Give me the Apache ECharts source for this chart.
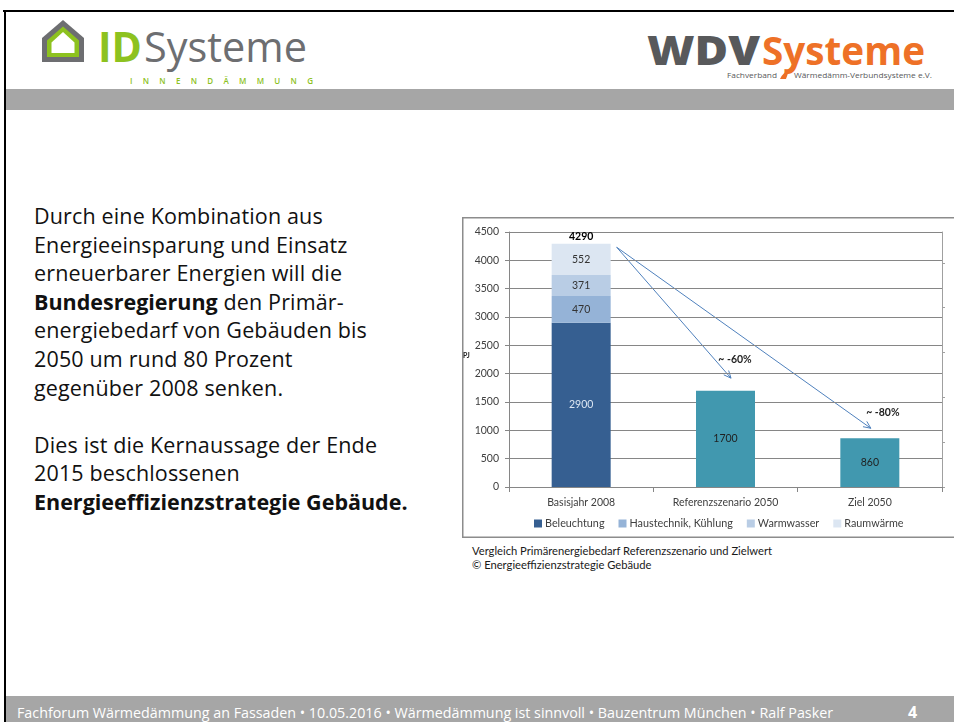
<!DOCTYPE html>
<html>
<head>
<meta charset="utf-8">
<title>Primärenergiebedarf Gebäude</title>
<script src="https://cdn.jsdelivr.net/npm/echarts@6/dist/echarts.min.js"></script>
<style>
  html, body { margin: 0; padding: 0; width: 954px; height: 722px; overflow: hidden; background: #fff; }
  #slide { position: absolute; left: 0; top: 0; }
  #text {
    position: absolute; left: 34px; top: 202px; width: 430px; white-space: nowrap;
    font-family: "Open Sans", "Noto Sans", sans-serif; font-size: 21.5px; letter-spacing: 0.15px;
    line-height: 28.6px; color: #111;
  }
  #text b { font-weight: 700; letter-spacing: 0; }
  #chart { position: absolute; left: 462px; top: 217px; width: 492px; height: 322px; }
  #caption {
    position: absolute; left: 472px; top: 544px; white-space: nowrap;
    font-family: Lato, "Noto Sans", sans-serif; font-size: 11.2px; line-height: 14px; color: #1a1a1a;
  }
</style>
</head>
<body>
<svg id="slide" width="954" height="722" xmlns="http://www.w3.org/2000/svg">
  <!-- Rahmen und Balken -->
  <rect x="3" y="10" width="951" height="2" fill="#000"/>
  <rect x="4" y="10" width="2" height="712" fill="#000"/>
  <rect x="6" y="89" width="948" height="21" fill="#a6a6a6"/>
  <rect x="6" y="696" width="948" height="26" fill="#a6a6a6"/>

  <!-- Logo IDSysteme -->
  <polygon points="42,62 42,38 63,20 84,38 84,62" fill="#6d6e71"/>
  <polygon points="47,57 47,40.5 63,26.5 79,40.5 79,57" fill="#8dc21f"/>
  <polygon points="51.5,53 51.5,42.5 63,32 74.5,42.5 74.5,53" fill="#fff"/>
  <text x="98" y="62" font-family="Open Sans" font-weight="700" font-size="41" fill="#8dc21f"
        textLength="44" lengthAdjust="spacingAndGlyphs">ID</text>
  <text x="144" y="62" font-family="Open Sans" font-size="42" fill="#6d6e71"
        textLength="163" lengthAdjust="spacingAndGlyphs">Systeme</text>
  <text x="130" y="83.5" font-family="Open Sans" font-weight="600" font-size="8" fill="#8dc21f"
        textLength="183" lengthAdjust="spacing">INNENDÄMMUNG</text>

  <!-- Logo WDVSysteme -->
  <text x="647" y="65" font-family="Open Sans" font-weight="800" font-size="40" fill="#58595b"
        textLength="113" lengthAdjust="spacingAndGlyphs">WDV</text>
  <text x="762" y="65" font-family="Open Sans" font-weight="700" font-size="40" fill="#ee7127"
        textLength="163" lengthAdjust="spacingAndGlyphs">Systeme</text>
  <text x="727" y="78" font-family="Open Sans" font-size="7.5" fill="#58595b"
        textLength="50" lengthAdjust="spacingAndGlyphs">Fachverband</text>
  <path d="M780,79 Q783,72 791,69 Q787,74 786,79 Z" fill="#ee7127"/>
  <text x="794" y="78" font-family="Open Sans" font-size="7.5" fill="#58595b"
        textLength="138" lengthAdjust="spacingAndGlyphs">Wärmedämm-Verbundsysteme e.V.</text>

  <!-- Fußzeile -->
  <text x="17" y="718" font-family="Open Sans" font-size="14" fill="#fff"
        textLength="816" lengthAdjust="spacingAndGlyphs">Fachforum Wärmedämmung an Fassaden • 10.05.2016 • Wärmedämmung ist sinnvoll • Bauzentrum München • Ralf Pasker</text>
  <text x="908" y="718" font-family="Open Sans" font-weight="700" font-size="16" fill="#fff">4</text>
</svg>

<div id="text">
  Durch eine Kombination aus<br>
  Energieeinsparung und Einsatz<br>
  erneuerbarer Energien will die<br>
  <b>Bundesregierung</b> den Primär-<br>
  energiebedarf von Gebäuden bis<br>
  2050 um rund 80 Prozent<br>
  gegenüber 2008 senken.<br>
  <br>
  Dies ist die Kernaussage der Ende<br>
  2015 beschlossenen<br>
  <b>Energieeffizienzstrategie Gebäude.</b>
</div>

<div id="chart"></div>

<div id="caption">
  Vergleich Primärenergiebedarf Referenzszenario und Zielwert<br>
  © Energieeffizienzstrategie Gebäude
</div>

<script>
// Daten
const categories = ['Basisjahr 2008', 'Referenzszenario 2050', 'Ziel 2050']
const beleuchtung = [2900, '-', '-']
const haustechnik = [470, '-', '-']
const warmwasser = [371, '-', '-']
const raumwaerme = [552, '-', '-']
const szenarien = ['-', 1700, 860]
const summen = [4290, '-', '-']
const reduktion = [
  { label: '~ -60%', target: 1 },
  { label: '~ -80%', target: 2 }
]
const rightTicks = [0, 1, 2, 3, 4, 5]

const chart = echarts.init(document.getElementById('chart'))

const font = 'Lato, "Noto Sans", sans-serif'
const axisGray = '#868686'

const stackLabel = (color, weight) => ({
  show: true,
  position: 'inside',
  color: color,
  fontFamily: font,
  fontSize: 10.5,
  fontWeight: weight || 'normal'
})

const option = {
  animation: false,
  textStyle: { fontFamily: font },
  legend: {
    data: ['Beleuchtung', 'Haustechnik, Kühlung', 'Warmwasser', 'Raumwärme'],
    left: 67,
    top: 296,
    icon: 'rect',
    itemWidth: 8,
    itemHeight: 8,
    itemGap: 14,
    textStyle: { color: '#404040', fontSize: 10.8, fontFamily: font, padding: [0, 0, 0, -2] }
  },
  grid: { left: 47, top: 15, width: 433, height: 255, containLabel: false },
  xAxis: {
    type: 'category',
    data: categories,
    axisLine: { lineStyle: { color: axisGray } },
    axisTick: { show: true, length: 5, lineStyle: { color: axisGray } },
    axisLabel: { color: '#404040', fontSize: 10.5, margin: 10 }
  },
  yAxis: [
    {
      type: 'value',
      min: 0,
      max: 4500,
      interval: 500,
      axisLine: { show: true, lineStyle: { color: axisGray } },
      axisTick: { show: true, length: 4, lineStyle: { color: axisGray } },
      axisLabel: { color: '#404040', fontSize: 10.5, margin: 10, formatter: v => String(v) },
      splitLine: { lineStyle: { color: axisGray, width: 1 } }
    },
    {
      type: 'value',
      position: 'right',
      min: 0,
      max: 5.69,
      axisLine: { show: true, lineStyle: { color: '#a0a0a0' } },
      axisTick: { show: true, length: 3, customValues: rightTicks, lineStyle: { color: '#a0a0a0' } },
      axisLabel: { show: false },
      splitLine: { show: false }
    }
  ],
  series: [
    {
      name: 'Beleuchtung', type: 'bar', stack: 'gesamt', barWidth: 59,
      data: beleuchtung, itemStyle: { color: '#365f91' },
      label: stackLabel('#dce6f2')
    },
    {
      name: 'Haustechnik, Kühlung', type: 'bar', stack: 'gesamt', barWidth: 59,
      data: haustechnik, itemStyle: { color: '#95b3d7' },
      label: stackLabel('#333333')
    },
    {
      name: 'Warmwasser', type: 'bar', stack: 'gesamt', barWidth: 59,
      data: warmwasser, itemStyle: { color: '#b9cde5' },
      label: stackLabel('#333333')
    },
    {
      name: 'Raumwärme', type: 'bar', stack: 'gesamt', barWidth: 59,
      data: raumwaerme, itemStyle: { color: '#dce6f2' },
      label: stackLabel('#333333')
    },
    {
      name: 'Szenario', type: 'bar', stack: 'gesamt', barWidth: 59,
      data: szenarien, itemStyle: { color: '#4198af' },
      label: stackLabel('#1f1f1f')
    },
    {
      name: 'Summe', type: 'bar', stack: 'gesamt', barWidth: 59,
      data: summen.map(v => (v === '-' ? '-' : 0)),
      itemStyle: { color: 'transparent' },
      label: {
        show: true,
        position: 'top',
        distance: 2,
        color: '#000',
        fontSize: 10.5,
        fontWeight: 'bold',
        formatter: p => summen[p.dataIndex]
      }
    }
  ],
  graphic: [
    {
      id: 'rahmen', type: 'rect', silent: true,
      shape: { x: 0.75, y: 0.75, width: 540, height: 319.5 },
      style: { fill: 'none', stroke: '#8c8c8c', lineWidth: 1.5 }
    },
    {
      id: 'einheit', type: 'text', left: 1, top: 135,
      style: { text: 'PJ', fill: '#222', font: 'bold 7px ' + font }
    }
  ]
}

chart.setOption(option)

// Pfeile von der Gesamtsumme zu den Zielbalken
const basisSumme = [beleuchtung, haustechnik, warmwasser, raumwaerme]
  .reduce((s, arr) => s + (typeof arr[0] === 'number' ? arr[0] : 0), 0)
const start = chart.convertToPixel({ gridIndex: 0 }, [0, basisSumme])
const startX = start[0] + 35.5
const startY = start[1] + 3.5
const labelOffset = [[4, -19], [12, -16]]
const endOffset = [[5.5, -12.5], [1, -10]]

const arrowGraphics = []
reduktion.forEach((r, i) => {
  const p = chart.convertToPixel({ gridIndex: 0 }, [r.target, szenarien[r.target]])
  const ex = p[0] + endOffset[i][0]
  const ey = p[1] + endOffset[i][1]
  const ang = Math.atan2(ey - startY, ex - startX)
  const len = 8
  const spread = 0.42
  arrowGraphics.push({
    id: 'pfeil' + i, type: 'line', silent: true,
    shape: { x1: startX, y1: startY, x2: ex, y2: ey },
    style: { stroke: '#4f81bd', lineWidth: 1 }
  })
  arrowGraphics.push({
    id: 'spitze' + i, type: 'polyline', silent: true,
    shape: {
      points: [
        [ex - len * Math.cos(ang - spread), ey - len * Math.sin(ang - spread)],
        [ex, ey],
        [ex - len * Math.cos(ang + spread), ey - len * Math.sin(ang + spread)]
      ]
    },
    style: { stroke: '#4f81bd', lineWidth: 1, fill: 'none' }
  })
  arrowGraphics.push({
    id: 'text' + i, type: 'text', silent: true,
    x: ex + labelOffset[i][0], y: ey + labelOffset[i][1],
    style: {
      text: r.label, fill: '#1f1f1f', font: 'bold 10.5px ' + font,
      align: 'center', verticalAlign: 'middle'
    }
  })
})

chart.setOption({ graphic: arrowGraphics })
</script>
</body>
</html>
